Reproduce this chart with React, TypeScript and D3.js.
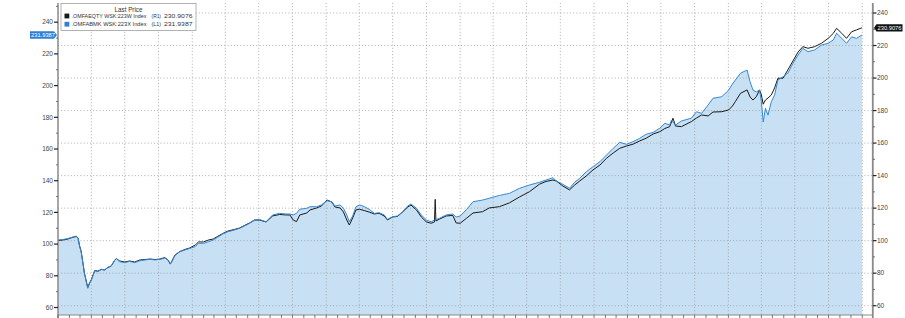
import React from "react";
import * as d3 from "d3";

const dates = [
"2020-01-01","2020-01-14","2020-01-28","2020-02-08","2020-02-20","2020-02-25","2020-02-29","2020-03-04","2020-03-09","2020-03-13",
"2020-03-18","2020-03-22","2020-03-27","2020-04-01","2020-04-06","2020-04-10","2020-04-19","2020-04-28","2020-05-07","2020-05-16",
"2020-05-25","2020-06-04","2020-06-08","2020-06-17","2020-07-01","2020-07-14","2020-07-28","2020-08-11","2020-08-25","2020-09-08",
"2020-09-21","2020-10-05","2020-10-18","2020-10-27","2020-11-02","2020-11-06","2020-11-15","2020-11-28","2020-12-12","2020-12-25",
"2021-01-09","2021-01-18","2021-02-01","2021-02-14","2021-02-27","2021-03-11","2021-03-25","2021-04-08","2021-04-26","2021-05-10",
"2021-05-23","2021-06-06","2021-06-20","2021-07-03","2021-07-21","2021-08-08","2021-08-27","2021-09-13","2021-09-24","2021-10-03",
"2021-10-12","2021-10-21","2021-11-09","2021-11-18","2021-12-06","2021-12-19","2022-01-03","2022-01-16","2022-01-25","2022-02-08",
"2022-02-17","2022-02-26","2022-03-05","2022-03-14","2022-03-23","2022-04-02","2022-04-15","2022-04-28","2022-05-12","2022-05-25",
"2022-06-08","2022-06-17","2022-07-01","2022-07-14","2022-07-28","2022-08-11","2022-08-20","2022-09-04","2022-09-17","2022-10-01",
"2022-10-14","2022-10-23","2022-10-25","2022-10-27","2022-11-06","2022-11-24","2022-12-12","2022-12-21","2023-01-01","2023-01-19",
"2023-02-05","2023-03-03","2023-03-21","2023-04-18","2023-05-15","2023-06-12","2023-07-09","2023-08-05","2023-08-23","2023-09-11",
"2023-09-20","2023-10-08","2023-10-26","2023-11-09","2023-11-23","2023-12-11","2023-12-29","2024-01-17","2024-02-04","2024-02-22",
"2024-03-11","2024-03-29","2024-04-16","2024-05-04","2024-05-22","2024-06-10","2024-06-28","2024-07-12","2024-07-25","2024-07-30",
"2024-08-03","2024-08-10","2024-08-26","2024-09-22","2024-10-06","2024-10-20","2024-11-07","2024-11-20","2024-12-14","2025-01-02",
"2025-01-12","2025-01-20","2025-02-03","2025-02-21","2025-03-01","2025-03-09","2025-03-18","2025-03-27","2025-04-01","2025-04-06",
"2025-04-12","2025-04-19","2025-04-28","2025-05-07","2025-05-16","2025-05-30","2025-06-12","2025-06-26","2025-07-10","2025-07-23",
"2025-08-06","2025-08-24","2025-09-12","2025-09-30","2025-10-14","2025-10-23","2025-11-06","2025-11-19","2025-12-03","2025-12-16",
"2025-12-31"
];

// .OMFABMK WSK:223X Index (L1) - blue, left axis
const omfabmk = [
102.6,102.9,103.5,104.3,105.1,103.5,98.4,95.2,87.9,81.6,
76.3,72.1,75.3,77.3,80.5,83.2,82.6,84.1,83.7,85.4,
86.2,90.0,90.8,88.9,88.3,89.1,88.3,89.5,90.0,90.4,
90.0,90.4,91.2,90.0,87.4,88.9,93.1,95.2,96.3,97.3,
98.4,100.5,100.5,101.5,102.6,104.3,106.4,107.8,108.9,110.0,
111.4,113.1,115.2,115.5,114.1,118.4,119.4,119.0,119.0,118.4,
119.4,122.0,122.6,123.6,123.6,124.7,127.4,126.7,124.0,124.7,
122.6,118.4,114.1,117.7,123.6,124.7,123.6,122.0,119.4,119.8,
118.4,115.6,117.3,117.7,120.4,124.0,125.3,122.6,118.4,115.2,
114.1,115.2,115.2,115.5,116.3,118.4,119.0,117.1,117.7,122.0,
126.7,127.8,128.9,130.7,132.0,135.2,137.3,139.0,140.4,141.9,
139.8,137.7,135.2,139.0,141.5,145.7,148.8,152.0,156.2,160.4,
164.2,163.0,164.6,166.7,169.3,170.5,173.1,176.2,175.1,178.3,
177.0,175.1,177.7,179.4,183.5,182.5,187.8,192.0,193.0,197.2,
201.0,203.5,207.8,209.8,202.5,197.2,196.0,197.2,189.8,177.0,
185.7,181.4,189.8,194.1,203.5,205.6,207.8,214.1,219.3,223.5,
221.4,222.5,225.6,226.7,228.8,233.0,229.8,226.7,230.8,229.8,
231.9387
];

// .OMFAEQTY WSK:223W Index (R1) - black, right axis
const omfaeqty = [
100.1,100.4,101.0,101.9,102.6,101.3,96.7,93.6,86.3,80.1,
75.2,71.2,74.0,76.1,79.2,81.6,81.3,82.3,82.0,83.5,
84.4,88.1,89.0,87.5,86.9,87.5,86.9,88.1,88.4,88.7,
88.4,88.7,89.6,88.1,85.6,87.2,91.2,93.3,94.6,95.5,
97.3,99.2,99.2,100.4,101.0,102.6,104.4,105.9,106.9,107.8,
109.3,110.9,112.7,112.7,111.5,115.2,116.1,115.8,115.8,112.7,
111.7,115.8,117.0,118.9,120.1,121.3,125.0,123.8,120.7,120.1,
117.6,112.7,109.6,113.9,118.9,119.3,118.5,117.6,116.4,116.8,
115.2,112.7,114.6,114.9,117.6,120.7,121.9,118.9,114.6,111.5,
110.7,111.5,125.4,112.1,113.3,115.2,115.5,110.9,110.7,113.9,
117.0,117.8,120.1,120.9,123.2,126.9,130.1,134.7,136.4,137.3,
136.7,133.6,131.2,134.2,136.7,139.8,143.5,146.5,150.7,153.9,
156.8,158.2,159.3,161.3,163.0,165.6,167.0,169.0,170.1,173.0,
175.3,170.5,170.1,173.2,175.4,177.3,176.7,179.1,179.3,180.4,
182.8,185.5,190.6,192.7,188.4,186.5,188.5,192.7,189.6,183.9,
186.5,187.7,189.6,193.9,199.9,199.9,205.0,210.5,216.0,219.3,
218.3,219.3,221.4,224.4,227.5,230.6,227.5,224.4,228.5,229.6,
230.9076
];

const legendTitle = "Last Price";
const seriesNames = [".OMFAEQTY WSK:223W Index", ".OMFABMK WSK:223X Index"];
const seriesAxes = ["(R1)", "(L1)"];
const lastLabels = ["230.9076", "231.9387"];
const axisTicks = [60, 80, 100, 120, 140, 160, 180, 200, 220, 240];

const W = 905, H = 318;
const X0 = 58, X1 = 862.3, GRID_R = 872, Y_TOP = 3, Y_BOT = 315;
const BLUE = "#3388d6", BLACK = "#1a1a1a", FILL = "#c8e0f4";
const FONT = "'Liberation Sans', Arial, sans-serif";

export default function App() {
  const parse = d3.timeParse("%Y-%m-%d");
  const ds = dates.map((d) => parse(d) as Date);
  const x = d3.scaleTime().domain([new Date(2020, 0, 1), new Date(2026, 0, 1)]).range([X0, X1]);
  const yL = d3.scaleLinear().domain([60, 240]).range([307.5, 22.2]);
  const yR = d3.scaleLinear().domain([60, 240]).range([305.7, 13]);

  const blue = ds.map((d, i) => ({ d, v: omfabmk[i] }));
  const black = ds.map((d, i) => ({ d, v: omfaeqty[i] }));

  const area = d3.area<{ d: Date; v: number }>().x((p) => x(p.d)).y0(Y_BOT).y1((p) => yL(p.v));
  const lineL = d3.line<{ d: Date; v: number }>().x((p) => x(p.d)).y((p) => yL(p.v));
  const lineR = d3.line<{ d: Date; v: number }>().x((p) => x(p.d)).y((p) => yR(p.v));

  const quarters = d3.timeMonth.every(3)!.range(new Date(2020, 3, 1), new Date(2026, 0, 2));
  const months = d3.timeMonth.range(new Date(2020, 0, 1), new Date(2026, 0, 2));
  const minorL = d3.range(70, 251, 20);
  const minorR = d3.range(70, 231, 20);

  const lastL = yL(omfabmk[omfabmk.length - 1]);
  const lastR = yR(omfaeqty[omfaeqty.length - 1]);

  return (
    <svg width={W} height={H} style={{ position: "absolute", left: 0, top: 0, background: "#fff" }} fontFamily={FONT}>
      <path d={area(blue) || ""} fill={FILL} />
      {/* grid */}
      {axisTicks.map((t) => (
        <line key={"hg" + t} x1={X0} x2={GRID_R} y1={yR(t)} y2={yR(t)} stroke="#9a9a9a" strokeWidth={0.8} strokeDasharray="1,2.2" />
      ))}
      {quarters.map((q, i) => (
        <line key={"vg" + i} x1={x(q)} x2={x(q)} y1={Y_TOP} y2={Y_BOT} stroke="#9a9a9a" strokeWidth={0.8} strokeDasharray="1,2.2" />
      ))}
      {/* series */}
      <path d={lineR(black) || ""} fill="none" stroke={BLACK} strokeWidth={1} />
      <path d={lineL(blue) || ""} fill="none" stroke={BLUE} strokeWidth={1} />
      {/* axes */}
      <line x1={X0} x2={X0} y1={Y_TOP} y2={H} stroke="#8a8a8a" strokeWidth={1.5} />
      <line x1={GRID_R + 0.8} x2={GRID_R + 0.8} y1={Y_TOP} y2={H} stroke="#8a8a8a" strokeWidth={1.8} />
      <line x1={X0} x2={GRID_R} y1={Y_BOT} y2={Y_BOT} stroke="#8a8a8a" strokeWidth={1} />
      {months.map((m, i) => (
        <line key={"bt" + i} x1={x(m)} x2={x(m)} y1={Y_BOT} y2={H} stroke="#555" strokeWidth={0.8} />
      ))}
      {axisTicks.map((t) => (
        <g key={"lt" + t}>
          <line x1={X0 - 4} x2={X0} y1={yL(t)} y2={yL(t)} stroke="#222" strokeWidth={1.2} />
          <text x={X0 - 5} y={yL(t)} dy="0.35em" textAnchor="end" fontSize={6.5} fill="#444">{t}</text>
        </g>
      ))}
      {minorL.map((t) => (
        <line key={"lm" + t} x1={X0 - 2} x2={X0} y1={yL(t)} y2={yL(t)} stroke="#555" strokeWidth={0.8} />
      ))}
      {axisTicks.map((t) => (
        <g key={"rt" + t}>
          <line x1={GRID_R + 1} x2={GRID_R + 4.5} y1={yR(t)} y2={yR(t)} stroke="#222" strokeWidth={1.2} />
          <text x={GRID_R + 5} y={yR(t)} dy="0.35em" textAnchor="start" fontSize={6.5} fill="#444">{t}</text>
        </g>
      ))}
      {minorR.map((t) => (
        <line key={"rm" + t} x1={GRID_R + 1} x2={GRID_R + 3} y1={yR(t)} y2={yR(t)} stroke="#555" strokeWidth={0.8} />
      ))}
      {/* last value boxes */}
      <path d={`M30,${lastL - 3.8} H54 L57,${lastL} L54,${lastL + 3.8} H30 Z`} fill="#2f7fd2" />
      <text x={43} y={lastL} dy="0.35em" textAnchor="middle" fontSize={6} fill="#fff" textLength={24} lengthAdjust="spacingAndGlyphs">{lastLabels[1]}</text>
      <path d={`M874,${lastR} L876.5,${lastR - 3.6} H902.5 V${lastR + 3.6} H876.5 Z`} fill="#111" />
      <text x={889.5} y={lastR} dy="0.35em" textAnchor="middle" fontSize={6} fill="#fff" textLength={24} lengthAdjust="spacingAndGlyphs">{lastLabels[0]}</text>
      {/* legend */}
      <rect x={61} y={3.5} width={135} height={27} fill="#fff" stroke="#a0a0a0" strokeWidth={0.8} />
      <text x={128.5} y={12.3} textAnchor="middle" fontSize={6.3} fill="#333">{legendTitle}</text>
      {[0, 1].map((i) => {
        const yc = 16 + i * 8.2;
        return (
          <g key={"lg" + i}>
            <rect x={64.5} y={yc - 2.4} width={4.8} height={4.8} fill={i === 0 ? BLACK : "#2f7fd2"} />
            <text x={71.5} y={yc} dy="0.35em" fontSize={5.4} fill="#333" textLength={75} lengthAdjust="spacingAndGlyphs">{seriesNames[i]}</text>
            <text x={151.5} y={yc} dy="0.35em" fontSize={5.4} fill="#333" textLength={9.5} lengthAdjust="spacingAndGlyphs">{seriesAxes[i]}</text>
            <text x={164} y={yc} dy="0.35em" fontSize={5.6} fill="#333" textLength={28.5} lengthAdjust="spacingAndGlyphs">{lastLabels[i]}</text>
          </g>
        );
      })}
    </svg>
  );
}
